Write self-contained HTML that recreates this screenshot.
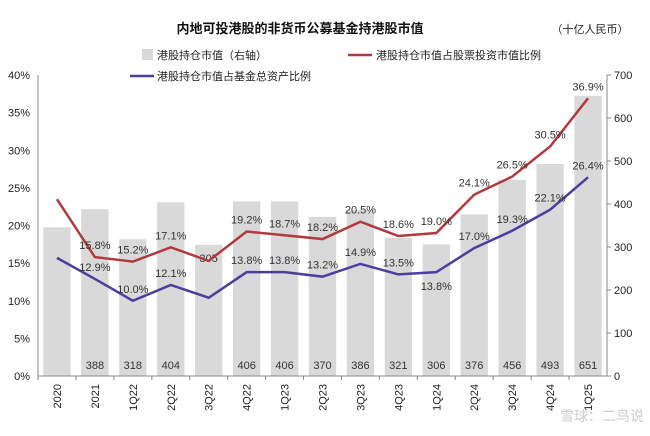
<!DOCTYPE html>
<html><head><meta charset="utf-8"><style>
body{margin:0;background:#fff;}
svg text{font-family:"Liberation Sans","Noto Sans CJK SC",sans-serif;}
</style></head><body>
<svg width="650" height="431" xmlns="http://www.w3.org/2000/svg" id="c">
<text x="300" y="33" text-anchor="middle" font-size="13" font-weight="bold" fill="#111">内地可投港股的非货币公募基金持港股市值</text>
<text x="590" y="33" text-anchor="middle" font-size="11" fill="#222">（十亿人民币）</text>
<g>
<rect x="142" y="49" width="11" height="11" fill="#d9d9d9"/>
<text x="157" y="59" font-size="11" fill="#222">港股持仓市值（右轴）</text>
<line x1="348" y1="55" x2="372" y2="55" stroke="#b23a3e" stroke-width="2.5"/>
<text x="376" y="59" font-size="11" fill="#222">港股持仓市值占股票投资市值比例</text>
<line x1="130" y1="76" x2="154" y2="76" stroke="#4a3f9e" stroke-width="2.5"/>
<text x="157" y="80" font-size="11" fill="#222">港股持仓市值占基金总资产比例</text>
</g>
<g id="plot"></g>
<text x="560" y="421" font-size="14" fill="#ccc">雪球：二鸟说</text>
</svg>
<script>
const categories=["2020","2021","1Q22","2Q22","3Q22","4Q22","1Q23","2Q23","3Q23","4Q23","1Q24","2Q24","3Q24","4Q24","1Q25"];
const holdings=[346,388,318,404,305,406,406,370,386,321,306,376,456,493,651];
const stockRatio=[23.5,15.8,15.2,17.1,15.3,19.2,18.7,18.2,20.5,18.6,19.0,24.1,26.5,30.5,36.9];
const assetRatio=[15.7,12.9,10.0,12.1,10.4,13.8,13.8,13.2,14.9,13.5,13.8,17.0,19.3,22.1,26.4];
const leftTicks=["0%","5%","10%","15%","20%","25%","30%","35%","40%"];
const rightTicks=["0","100","200","300","400","500","600","700"];
const NS="http://www.w3.org/2000/svg";
const g=document.getElementById('plot');
const X0=38,X1=607,Y0=376,Y1=75;
const bw=(X1-X0)/categories.length;
const xs=i=>X0+bw*(i+0.5);
const yl=v=>Y0-(v/40)*(Y0-Y1);
const yr=v=>Y0-(v/700)*(Y0-Y1);
function el(t,a,txt){const e=document.createElementNS(NS,t);for(const k in a)e.setAttribute(k,a[k]);if(txt!=null)e.textContent=txt;g.appendChild(e);return e;}
holdings.forEach((v,i)=>{
 const r=el('rect',{x:xs(i)-bw*0.36,y:yr(v),width:bw*0.72,height:Y0-yr(v),fill:'#d9d9d9'});
 
 
 if(i>0){
  const t=el('text',{x:xs(i),y:i===4?yr(v)+17:369,'text-anchor':'middle','font-size':11,fill:'#333'},String(v));
  
  
 }
});
let a=el('line',{x1:X0,y1:Y1,x2:X0,y2:Y0,stroke:'#888'});
a=el('line',{x1:X1,y1:Y1,x2:X1,y2:Y0,stroke:'#888'});
a=el('line',{x1:X0,y1:Y0,x2:X1,y2:Y0,stroke:'#888'});
leftTicks.forEach((t,i)=>{const e=el('text',{x:30,y:yl(i*5)+4,'text-anchor':'end','font-size':11,fill:'#222'},t);});
rightTicks.forEach((t,i)=>{const e=el('text',{x:614,y:yr(i*100)+4,'font-size':11,fill:'#222'},t);
 const k=el('line',{x1:X1,y1:yr(i*100),x2:X1+4,y2:yr(i*100),stroke:'#888'});});
categories.forEach((c,i)=>{
 const k=el('line',{x1:X0+bw*i,y1:Y0,x2:X0+bw*i,y2:Y0+4,stroke:'#888'});
 const x=xs(i)+4,y=Y0+8;
 const e=el('text',{x:x,y:y,transform:`rotate(-90 ${x} ${y})`,'text-anchor':'end','font-size':11,fill:'#222'},c);
 
});
function line(vals,col,name,off){
 const p=el('polyline',{points:vals.map((v,i)=>xs(i)+','+yl(v)).join(' '),fill:'none',stroke:col,'stroke-width':2.5});
 
 vals.forEach((v,i)=>{if(i===0||i===4)return;
  let dy=off;
  if(name==='blue-line'&&i===10)dy=18;
  const t=el('text',{x:xs(i),y:yl(v)+dy,'text-anchor':'middle','font-size':11,fill:'#333'},v.toFixed(1)+'%');
  });
}
line(stockRatio,'#b23a3e','red-line',-8);
line(assetRatio,'#4a3f9e','blue-line',-8);
</script>
</body></html>
